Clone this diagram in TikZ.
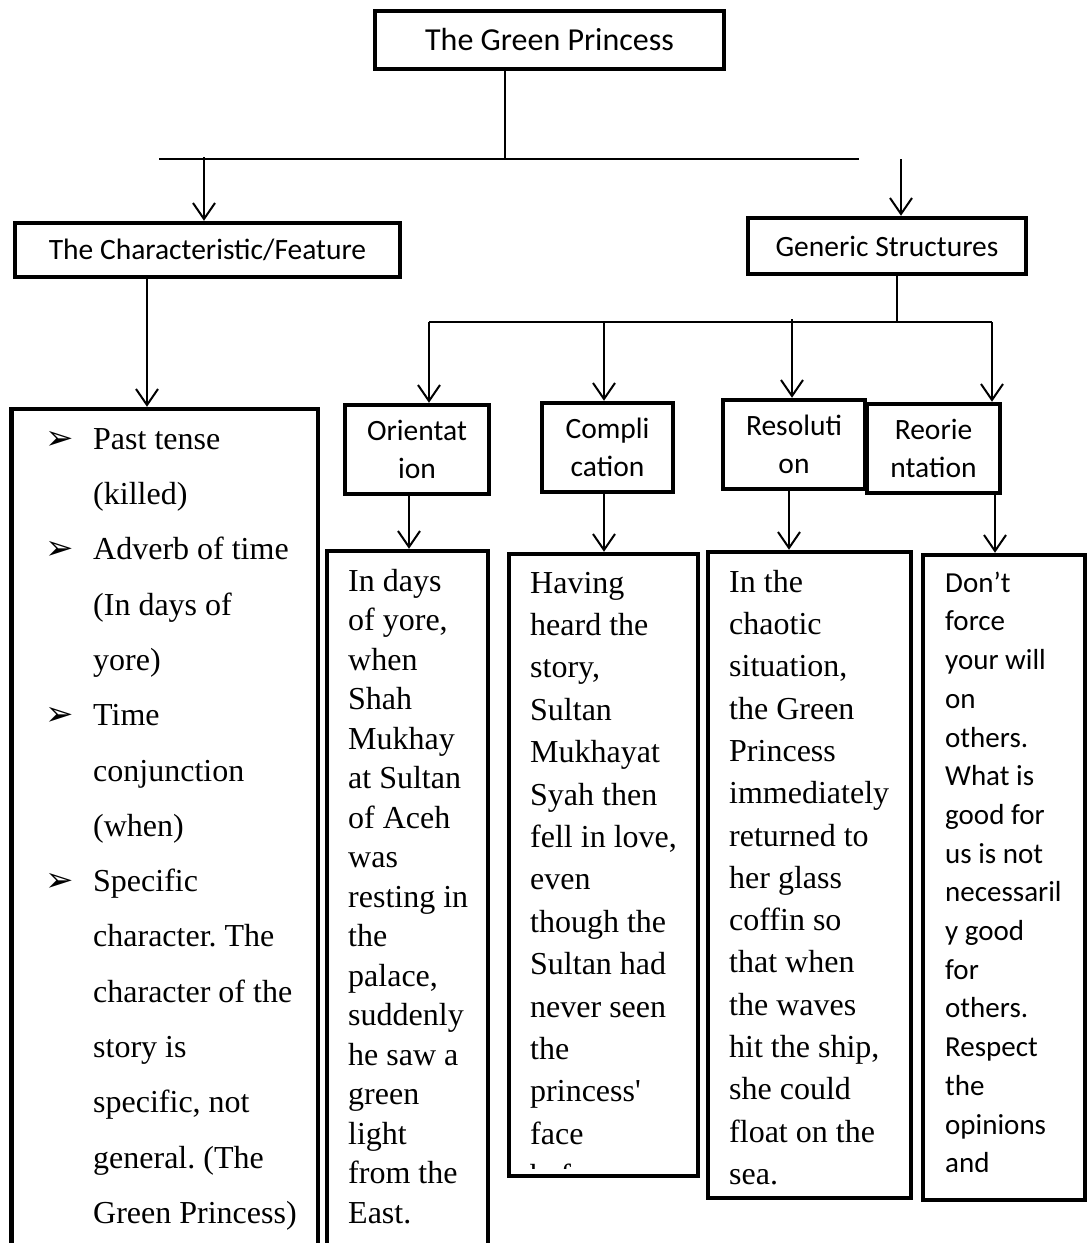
\documentclass[tikz,border=0pt]{standalone}
\usepackage{fontspec}
\setmainfont{Liberation Serif}
\newfontfamily\calibri{Carlito}
\newfontfamily\dingfont{DejaVu Sans}
\usetikzlibrary{arrows.meta}
\frenchspacing

\begin{document}
\begin{tikzpicture}[x=1pt,y=-1pt,
  box/.style={draw,line width=4.5pt,inner sep=0pt,align=center,font=\calibri\fontsize{29.5}{38}\selectfont},
  panel/.style={draw,line width=4.5pt,inner sep=0pt},
  prose/.style={anchor=north west,inner sep=0pt,align=left},
  tick/.style={anchor=base west,inner sep=0pt,font=\dingfont\fontsize{34}{36}\selectfont},
  link/.style={line width=2pt},
  arr/.style={-{Straight Barb[length=16pt,width=22pt]},line width=2pt}]
\useasboundingbox (0,0) rectangle (1089,1243);
\clip (0,0) rectangle (1089,1243);
% headings
\node[box,font=\calibri\fontsize{32}{38}\selectfont,minimum width=349pt,minimum height=58pt] (title) at (549.5,40) {The Green Princess};
\node[box,minimum width=385pt,minimum height=54pt] (feat) at (207.5,250) {The Characteristic/Feature};
\node[box,minimum width=278pt,minimum height=56pt] (gen) at (887,246) {Generic Structures};
\node[box,minimum width=144pt,minimum height=89pt] (orient) at (417,449.5) {Orientat\\ion};
\node[box,minimum width=131pt,minimum height=89pt] (compl) at (607.5,447.5) {Compli\\cation};
\node[box,minimum width=142pt,minimum height=89pt] (reso) at (794,444.5) {Resoluti\\on};
\node[box,minimum width=133pt,minimum height=89pt] (reor) at (933.5,448.5) {Reorie\\ntation};
% panels
\node[panel,minimum width=306.5pt,minimum height=851pt] (featlist) at (164.5,834.5) {};
\node[panel,minimum width=161pt,minimum height=709pt] (orientdet) at (407.5,905.5) {};
\node[panel,minimum width=189pt,minimum height=622pt] (compldet) at (603.5,865) {};
\node[panel,minimum width=203pt,minimum height=646pt] (resodet) at (809.5,875) {};
\node[panel,minimum width=162pt,minimum height=645pt] (reordet) at (1004,877.5) {};
% texts
\foreach \k in {0,2,5,8}
  \node[tick] (tick\k) at (45,449+55.3*\k) {➢};
\node[prose,font=\fontsize{32}{55.3}\selectfont] (feattext) at (93,410.3)
  {\strut Past tense\\(killed)\\Adverb of time\\(In days of\\yore)\\Time\\conjunction\\(when)\\Specific\\character. The\\character of the\\story is\\specific, not\\general. (The\\Green Princess)};
\node[prose,font=\fontsize{32}{39.5}\selectfont] (orienttext) at (348,563.35)
  {\strut In days\\of yore,\\when\\Shah\\Mukhay\\at Sultan\\of Aceh\\was\\resting in\\the\\palace,\\suddenly\\he saw a\\green\\light\\from the\\East.};
\begin{scope}
\clip (compldet.north west) rectangle ([yshift=10pt]compldet.south east);
\node[prose,font=\fontsize{32}{42.4}\selectfont] (compltext) at (530,563.3)
  {\strut Having\\heard the\\story,\\Sultan\\Mukhayat\\Syah then\\fell in love,\\even\\though the\\Sultan had\\never seen\\the\\princess\textquotesingle\\face\\before};
\end{scope}
\node[prose,font=\fontsize{32}{42.3}\selectfont] (resotext) at (729,562.4)
  {\strut In the\\chaotic\\situation,\\the Green\\Princess\\immediately\\returned to\\her glass\\coffin so\\that when\\the waves\\hit the ship,\\she could\\float on the\\sea.};
\node[prose,font=\calibri\fontsize{29}{38.7}\selectfont] (reortext) at (945,564.9)
  {\strut Don’t\\force\\your will\\on\\others.\\What is\\good for\\us is not\\necessaril\\y good\\for\\others.\\Respect\\the\\opinions\\and};
% connectors
\coordinate (titledrop) at (505,159);
\coordinate (barL) at (159,159);
\coordinate (barR) at (859,159);
\coordinate (featdrop) at (204,157);
\coordinate (gendrop) at (901,159);
\coordinate (featstem) at (147,0);
\coordinate (genstem) at (897,0);
\coordinate (barGL) at (429,322);
\coordinate (barGR) at (992,322);
\coordinate (complstem) at (604,322);
\coordinate (resostem) at (792,319);
\coordinate (orientdrop) at (409,0);
\coordinate (compldrop) at (604,0);
\coordinate (resodrop) at (789,0);
\coordinate (reordrop) at (995,0);
\draw[link] (title.south -| titledrop) -- (titledrop);
\draw[link] (barL) -- (barR);
\draw[arr] (featdrop) -- (featdrop |- feat.north);
\draw[arr] (gendrop) -- (gendrop |- gen.north);
\draw[arr] (feat.south -| featstem) -- (featlist.north -| featstem);
\draw[link] (gen.south -| genstem) -- (barGL -| genstem);
\draw[link] (barGL) -- (barGR);
\draw[arr] (barGL) -- (barGL |- orient.north);
\draw[arr] (complstem) -- (complstem |- compl.north);
\draw[arr] (resostem) -- (resostem |- reso.north);
\draw[arr] (barGR) -- (barGR |- reor.north);
\draw[arr] (orient.south -| orientdrop) -- (orientdet.north -| orientdrop);
\draw[arr] (compl.south -| compldrop) -- (compldet.north -| compldrop);
\draw[arr] (reso.south -| resodrop) -- (resodet.north -| resodrop);
\draw[arr] (reor.south -| reordrop) -- (reordet.north -| reordrop);
\end{tikzpicture}
\end{document}
